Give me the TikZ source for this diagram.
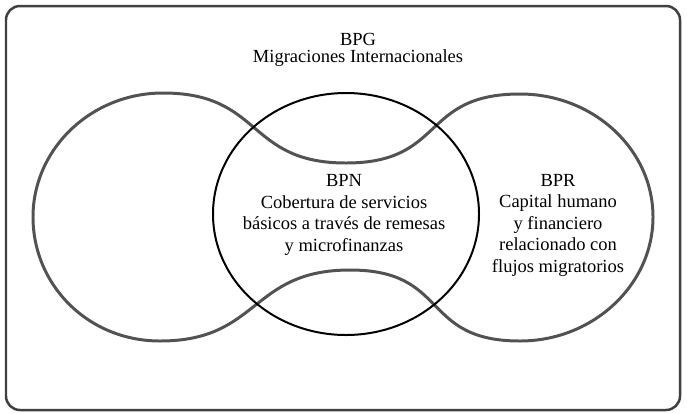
\documentclass[tikz,border=0pt]{standalone}
\usepackage{fontspec}
\setmainfont{Liberation Serif}
\usepackage{tikz}
\usetikzlibrary{calc}
\tikzstyle{frame}=[draw=black!75,line width=2.5pt,rounded corners=14pt]
\tikzstyle{lobes}=[draw=black!68,line width=3pt]
\tikzstyle{core}=[draw=black,line width=2pt]
\tikzstyle{areatext}=[align=center,inner sep=0pt,font=\fontsize{18.5bp}{21.5bp}\selectfont]
\tikzstyle{toptext}=[align=center,inner sep=0pt,font=\fontsize{18.5bp}{17bp}\selectfont]

\begin{document}
\begin{tikzpicture}[x=1bp,y=-1bp]
\useasboundingbox (0,0) rectangle (687,413);

%Frame
    \draw[frame] (6,6) rectangle (680,410);

%Outer lobes
    \draw[lobes] (163,93) .. controls (263,93) and (246,163) .. (346,163)
        .. controls (446,163) and (420,94) .. (520,94)
        .. controls (593,94) and (653,149) .. (653,217)
        .. controls (653,285) and (593,341) .. (520,341)
        .. controls (420,341) and (450,270) .. (350,270)
        .. controls (250,270) and (260,341) .. (160,341)
        .. controls (88,341) and (33,285) .. (33,217)
        .. controls (33,149) and (91,93) .. (163,93) -- cycle;

%Centre
    \draw[core] (346,214) ellipse [x radius=133, y radius=121];

%Texts
    \node[toptext] (bpg) at (358,50) {BPG\\Migraciones Internacionales};
    \foreach \pos/\name/\txt in {{(344,215)/bpn/{BPN\\Cobertura de servicios\\básicos a través de remesas\\y microfinanzas}},
        {(558,225)/bpr/{BPR\\Capital humano\\y financiero\\relacionado con\\flujos migratorios}}}
        \node[areatext] (\name) at \pos {\txt};

\end{tikzpicture}
\end{document}
